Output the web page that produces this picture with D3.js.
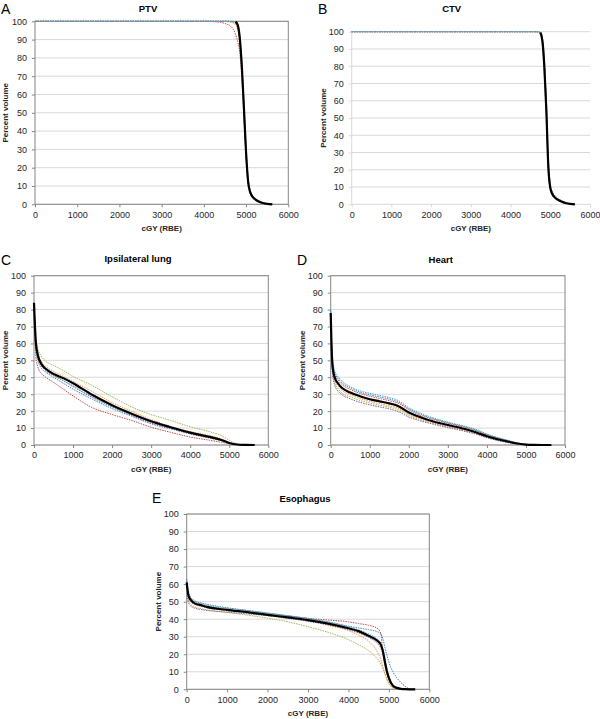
<!DOCTYPE html>
<html>
<head>
<meta charset="utf-8">
<script src="https://cdnjs.cloudflare.com/ajax/libs/d3/7.8.5/d3.min.js"></script>
<style>
  body { margin: 0; background: #fff; }
  text { font-family: "Liberation Sans", Arial, sans-serif; }
</style>
</head>
<body>
<script>
// axis ticks shared by all five panels
var doseTicks = [0, 1000, 2000, 3000, 4000, 5000, 6000];
var volumeTicks = [0, 10, 20, 30, 40, 50, 60, 70, 80, 90, 100];

// A - PTV (mean curve only drawn where it leaves 100%)
var ptvDose   = [0, 4000, 4300, 4500, 4600, 4700, 4750, 4800, 4850, 4900, 4950, 5000, 5050, 5100, 5150, 5200, 5300, 5400, 5500, 5620];
var ptvMean   = [null, null, null, null, null, null, 99.8, 98, 91, 75, 52, 28, 12, 6.5, 4.2, 3, 1.5, 0.7, 0.25, 0];
var ptvRed    = [100, 100, 99.7, 98.8, 97.8, 95.5, 93, 89, 83, 69, 48, 26, 11, 5.5, 3.6, 2.5, 1.1, 0.4, 0.1, 0];
var ptvGreen  = [100, 100, 100, 100, 99.9, 99.7, 99, 97, 89, 73, 50, 27, 12, 6.5, 4.2, 3, 1.4, 0.6, 0.2, 0];
var ptvBlue   = [100, 100, 100, 100, 100, 99.9, 99.6, 98.5, 92, 77, 55, 31, 14, 7.5, 5, 3.6, 1.9, 0.9, 0.35, 0];
var ptvOrange = [100, 100, 100, 99.9, 99.6, 99, 98, 95.5, 88, 71, 48, 25, 11, 6, 4, 2.8, 1.3, 0.5, 0.15, 0];
var ptvPurple = [100, 100, 100, 100, 99.9, 99.6, 99, 97.5, 90, 74, 51, 27, 12, 6.2, 4, 2.9, 1.4, 0.6, 0.2, 0];
var ptvCyan   = [100, 100, 100, 100, 100, 99.9, 99.6, 98.3, 92, 76, 54, 30, 13.5, 7.2, 4.8, 3.4, 1.8, 0.8, 0.3, 0];

// B - CTV
var ctvDose   = [0, 4600, 4700, 4750, 4800, 4850, 4900, 4950, 5000, 5050, 5100, 5200, 5300, 5400, 5500, 5620];
var ctvMean   = [null, null, null, 99.5, 95, 80, 55, 22, 9.5, 6, 4.3, 2.5, 1.4, 0.6, 0.2, 0];
var ctvRed    = [100, 100, 99.8, 99, 94, 78, 53, 21, 9, 5.5, 4, 2.3, 1.2, 0.5, 0.15, 0];
var ctvGreen  = [100, 100, 99.9, 99.2, 94.5, 79, 54, 21.5, 9.3, 5.8, 4.2, 2.4, 1.3, 0.5, 0.2, 0];
var ctvBlue   = [100, 100, 99.9, 99.5, 96, 83, 59, 26, 11.5, 7.2, 5.2, 3.1, 1.8, 0.8, 0.3, 0];
var ctvOrange = [100, 100, 99.6, 98.5, 92, 75, 50, 19, 8.5, 5.2, 3.8, 2.1, 1.1, 0.4, 0.1, 0];
var ctvPurple = [100, 100, 99.9, 99.3, 95, 81, 56, 23, 10, 6.3, 4.5, 2.7, 1.5, 0.6, 0.2, 0];
var ctvCyan   = [100, 100, 99.9, 99.6, 96.5, 84, 60, 27, 12, 7.5, 5.5, 3.3, 2, 0.9, 0.35, 0];

// C - Ipsilateral lung
var lungDose   = [0, 25, 50, 100, 200, 300, 500, 750, 1000, 1500, 2000, 2500, 3000, 3500, 4000, 4500, 4800, 5000, 5200, 5400, 5650];
var lungMean   = [84, 70, 60, 53, 47.5, 45, 42, 39.5, 36.5, 29.5, 23.5, 18.5, 14, 10.5, 7.3, 4.8, 3, 1.2, 0.3, 0.1, 0];
var lungRed    = [80, 62, 52, 46, 42, 40, 37, 33, 29, 22, 18, 14.5, 10.5, 7.5, 4.7, 2.8, 1.6, 0.8, 0.2, 0, 0];
var lungGreen  = [83, 72, 63, 57, 52, 49.5, 47, 44, 40.5, 35, 28.5, 22.5, 18, 14.5, 10.8, 7.8, 5.5, 2.8, 0.7, 0.1, 0];
var lungBlue   = [82, 65, 56, 50, 45, 43, 40, 36.5, 33, 27, 21.5, 17, 12.5, 9.5, 6.5, 4, 2.5, 1, 0.3, 0, 0];
var lungOrange = [84, 71, 61, 54, 49, 46.5, 43.5, 40.5, 37.5, 31.5, 25, 20, 15, 11, 8, 5.5, 3.5, 1.5, 0.3, 0.1, 0];
var lungPurple = [83, 68, 58, 51.5, 46.5, 44, 41, 38, 34.5, 28, 22.5, 17.5, 13, 9.8, 6.8, 4.3, 2.7, 1.1, 0.3, 0, 0];
var lungCyan   = [83, 67, 58, 52, 46.5, 44, 41, 38, 35, 28.5, 22.5, 18, 13.5, 10, 7, 4.5, 2.8, 1.1, 0.3, 0.1, 0];

// D - Heart
var heartDose   = [0, 20, 50, 100, 200, 300, 500, 750, 1000, 1250, 1500, 1750, 2000, 2250, 2500, 3000, 3500, 3750, 4000, 4500, 5000, 5200, 5650];
var heartMean   = [78, 60, 46, 40, 36, 33.5, 31, 28.8, 27, 25.8, 24.6, 22.8, 19.2, 16.8, 14.8, 11.8, 9, 7.2, 5.2, 2.2, 0.2, 0.05, 0];
var heartRed    = [79, 62, 48, 42, 38, 35.5, 32.8, 30.5, 28.8, 27.5, 26.2, 24.5, 20.8, 18, 16, 12.8, 10, 8.2, 6, 2.7, 0.3, 0.05, 0];
var heartGreen  = [76, 57, 43, 37, 33, 30.5, 28.5, 26.3, 24.8, 23.5, 22.3, 20.6, 17.4, 15.2, 13.5, 10.7, 8, 6.4, 4.5, 1.7, 0.1, 0, 0];
var heartBlue   = [79, 63, 49, 43, 39, 36.5, 33.7, 31.2, 29.6, 28.4, 27.1, 25.2, 21.4, 18.6, 16.5, 13.2, 10.4, 8.6, 6.3, 2.9, 0.35, 0.05, 0];
var heartOrange = [77, 58, 44.5, 38.5, 34.5, 32, 29.8, 27.5, 25.8, 24.5, 23.2, 21.5, 18, 15.8, 14, 11, 8.3, 6.6, 4.7, 1.8, 0.1, 0, 0];
var heartPurple = [75, 55, 41, 35.5, 31.5, 29.5, 27.3, 25.2, 23.7, 22.5, 21.3, 19.5, 16.5, 14.5, 13, 10.3, 7.7, 6.2, 4.3, 1.6, 0.1, 0, 0];
var heartCyan   = [80, 64, 50, 44, 40, 37.5, 34.5, 32, 30.5, 29.3, 28, 26, 22, 19.3, 17, 13.5, 10.7, 9, 6.5, 3, 0.4, 0.1, 0];

// E - Esophagus
var esoDose   = [0, 25, 50, 100, 200, 350, 500, 1000, 1500, 2000, 2500, 3000, 3500, 4000, 4250, 4500, 4700, 4800, 4850, 4900, 4950, 5000, 5100, 5200, 5300, 5400, 5500, 5650];
var esoMean   = [61, 56, 53, 51, 49, 48, 47, 45.3, 44, 42.5, 41, 39.5, 37.5, 34.8, 33.2, 30.5, 28, 25.5, 22, 16, 10.5, 6.5, 2, 0.8, 0.2, 0.05, 0, 0];
var esoRed    = [60, 55, 52, 50, 48.5, 47.5, 46.5, 45, 44, 43, 41.8, 40.5, 39.5, 38.5, 37.5, 36.5, 35, 32, 22, 14, 9, 6, 2, 0.5, 0.1, 0, 0, 0];
var esoGreen  = [58, 53, 50.5, 48.5, 47, 46, 45.3, 43.8, 42.3, 40.6, 38.5, 35.7, 32.5, 28.3, 25.5, 22, 17.7, 14.5, 12, 9, 5.5, 3.2, 0.7, 0.1, 0, 0, 0, 0];
var esoBlue   = [63, 58, 55, 52.5, 50.5, 49.3, 48.5, 46.5, 45, 43.5, 42, 40.3, 38.3, 36, 35, 34, 33, 31.5, 29, 24, 19.5, 15.5, 10, 6.5, 3.8, 1.8, 0.4, 0];
var esoOrange = [60, 55, 52, 50, 48.3, 47.3, 46.5, 44.8, 43.5, 42, 40.5, 39, 36.5, 33.5, 31, 27.5, 22, 17, 13, 9, 6, 3.5, 1, 0.2, 0, 0, 0, 0];
var esoPurple = [55, 51, 49, 47.5, 46.3, 45.5, 45, 44, 43, 42, 40.5, 38.8, 36.8, 34, 32.2, 29.5, 26.5, 23.5, 20, 14.5, 9.5, 5.5, 1.8, 0.5, 0.1, 0, 0, 0];
var esoCyan   = [62, 57, 54, 52, 50, 49, 48, 46.3, 45, 43.5, 42, 40.5, 38.5, 35.8, 34, 31.5, 29, 26.5, 23, 17, 11.5, 7.5, 2.5, 1, 0.3, 0.1, 0, 0];

var runColors = ["#C0504D", "#9BBB59", "#4F81BD", "#F79646", "#8064A2", "#4BACC6"];

var svg = d3.select("body").append("svg")
  .attr("width", 600)
  .attr("height", 719)
  .style("background", "#fff");

function drawPanel(p) {
  var x = d3.scaleLinear().domain([0, 6000]).range([p.left, p.right]);
  var y = d3.scaleLinear().domain([0, 100]).range([p.bottom, p.top]);
  var g = svg.append("g");

  // horizontal gridlines
  g.selectAll("line.grid")
    .data(volumeTicks)
    .enter().append("line")
      .attr("x1", p.left).attr("x2", p.right)
      .attr("y1", function(d){ return y(d); })
      .attr("y2", function(d){ return y(d); })
      .attr("stroke", "#d9d9d9")
      .attr("stroke-width", 1);

  if (p.border) {
    g.append("rect")
      .attr("x", p.left).attr("y", y(100))
      .attr("width", p.right - p.left).attr("height", y(0) - y(100))
      .attr("fill", "none")
      .attr("stroke", "#868686")
      .attr("stroke-width", 1);
  } else {
    g.append("line")
      .attr("x1", p.left).attr("x2", p.left)
      .attr("y1", p.top).attr("y2", p.bottom)
      .attr("stroke", "#d9d9d9");
  }

  var xAxis = d3.axisBottom(x).tickValues(doseTicks).tickFormat(d3.format("d")).tickSize(3).tickPadding(4);
  var yAxis = d3.axisLeft(y).tickValues(volumeTicks).tickFormat(d3.format("d")).tickSize(3).tickPadding(5);

  var gx = g.append("g")
    .attr("transform", "translate(0," + p.bottom + ")")
    .call(xAxis);
  var gy = g.append("g")
    .attr("transform", "translate(" + p.left + ",0)")
    .call(yAxis);
  [gx, gy].forEach(function(a){
    a.select(".domain").remove();
    a.selectAll(".tick line").attr("stroke", p.border ? "#868686" : "#d9d9d9");
    a.selectAll(".tick text").attr("fill", "#262626").style("font-size", "9px")
      .style("font-family", "'Liberation Sans', Arial, sans-serif");
  });

  var line = d3.line()
    .defined(function(d){ return d[1] != null; })
    .x(function(d){ return x(d[0]); })
    .y(function(d){ return y(d[1]); })
    .curve(d3.curveMonotoneX);

  p.runs.forEach(function(vals, i){
    g.append("path")
      .datum(d3.zip(p.dose, vals))
      .attr("d", line)
      .attr("fill", "none")
      .attr("stroke", runColors[i])
      .attr("stroke-width", 1)
      .attr("stroke-dasharray", "1.5,1");
  });

  g.append("path")
    .datum(d3.zip(p.dose, p.mean))
    .attr("d", line)
    .attr("fill", "none")
    .attr("stroke", "#000")
    .attr("stroke-width", 2.2);

  g.append("text")
    .attr("x", p.letterX).attr("y", p.letterY)
    .style("font-size", "14px")
    .attr("fill", "#000")
    .text(p.letter);

  g.append("text")
    .attr("x", p.titleX).attr("y", p.titleY)
    .attr("text-anchor", "middle")
    .style("font-size", "9.5px")
    .style("font-weight", "bold")
    .attr("fill", "#000")
    .text(p.title);

  g.append("text")
    .attr("x", (p.left + p.right) / 2).attr("y", p.bottom + 27)
    .attr("text-anchor", "middle")
    .style("font-size", "8px")
    .style("font-weight", "bold")
    .attr("fill", "#262626")
    .text("cGY (RBE)");

  g.append("text")
    .attr("transform", "translate(" + p.ylabX + "," + ((p.top + p.bottom) / 2) + ") rotate(-90)")
    .attr("text-anchor", "middle")
    .style("font-size", "8px")
    .style("font-weight", "bold")
    .attr("fill", "#262626")
    .text("Percent volume");
}

drawPanel({letter: "A", title: "PTV", left: 35, right: 288.3, top: 21.3, bottom: 204.3, border: true,
  letterX: 1, letterY: 14, titleX: 148, titleY: 12, ylabX: 8,
  dose: ptvDose, mean: ptvMean, runs: [ptvRed, ptvGreen, ptvBlue, ptvOrange, ptvPurple, ptvCyan]});

drawPanel({letter: "B", title: "CTV", left: 351.7, right: 590, top: 31.7, bottom: 204.3, border: false,
  letterX: 318, letterY: 14, titleX: 451.7, titleY: 12, ylabX: 326,
  dose: ctvDose, mean: ctvMean, runs: [ctvRed, ctvGreen, ctvBlue, ctvOrange, ctvPurple, ctvCyan]});

drawPanel({letter: "C", title: "Ipsilateral lung", left: 34, right: 268.3, top: 275.7, bottom: 445, border: true,
  letterX: 1, letterY: 265, titleX: 138, titleY: 262, ylabX: 8,
  dose: lungDose, mean: lungMean, runs: [lungRed, lungGreen, lungBlue, lungOrange, lungPurple, lungCyan]});

drawPanel({letter: "D", title: "Heart", left: 330.7, right: 565, top: 275.7, bottom: 445, border: true,
  letterX: 297, letterY: 265, titleX: 440.7, titleY: 263, ylabX: 305,
  dose: heartDose, mean: heartMean, runs: [heartRed, heartGreen, heartBlue, heartOrange, heartPurple, heartCyan]});

drawPanel({letter: "E", title: "Esophagus", left: 186.7, right: 429.3, top: 514, bottom: 689.3, border: true,
  letterX: 152, letterY: 503, titleX: 305, titleY: 502, ylabX: 161,
  dose: esoDose, mean: esoMean, runs: [esoRed, esoGreen, esoBlue, esoOrange, esoPurple, esoCyan]});
</script>
</body>
</html>
